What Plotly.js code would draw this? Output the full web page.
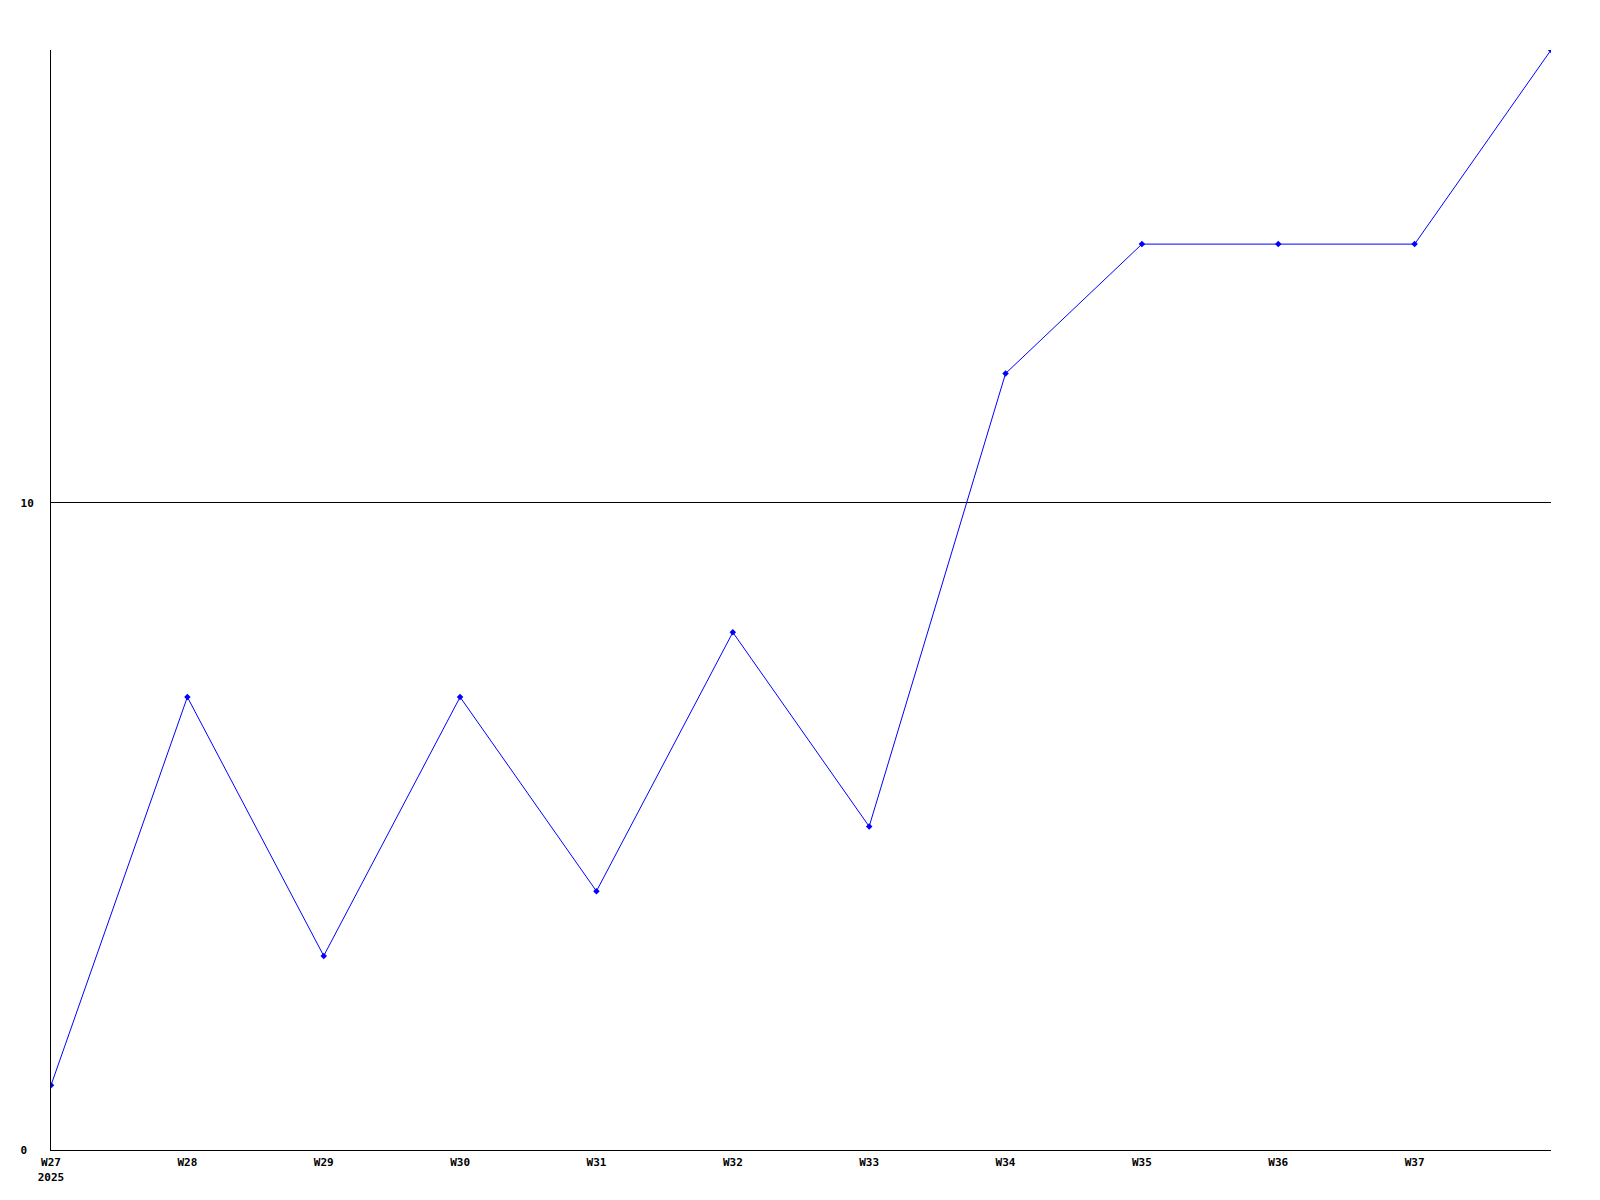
<!DOCTYPE html>
<html>
<head>
<meta charset="utf-8">
<script src="https://cdn.plot.ly/plotly-3.0.1.min.js"></script>
<style>html,body{margin:0;padding:0;background:#fff;}#chart{width:1600px;height:1200px;}</style>
</head>
<body>
<div id="chart"></div>
<script>
const weeks = ["W27","W28","W29","W30","W31","W32","W33","W34","W35","W36","W37","W38"];
const values = [1, 7, 3, 7, 4, 8, 5, 12, 14, 14, 14, 17];
const xTickLabels = ["W27<br>2025","W28","W29","W30","W31","W32","W33","W34","W35","W36","W37"];
const yTickValues = [0, 10];
const yTickLabels = ["0\u00a0", "10"];

const xIdx = weeks.map((w, i) => i);
const font = {family: "DejaVu Sans Mono, monospace", size: 11, color: "#000", weight: "bold"};

Plotly.newPlot("chart", [{
  x: xIdx,
  y: values,
  type: "scatter",
  mode: "lines+markers",
  line: {color: "#0000ff", width: 1},
  marker: {color: "#0000ff", size: 5, symbol: "diamond"},
  hoverinfo: "skip"
}], {
  width: 1600, height: 1200,
  margin: {l: 51, r: 49, t: 50, b: 50},
  paper_bgcolor: "#fff", plot_bgcolor: "#fff",
  showlegend: false,
  font: font,
  xaxis: {
    range: [0, weeks.length - 1],
    tickvals: xTickLabels.map((t, i) => i),
    ticktext: xTickLabels,
    showgrid: false, zeroline: false,
    showline: true, linecolor: "#000", linewidth: 1,
    ticks: "", ticklabelstandoff: 2,
    tickfont: font
  },
  yaxis: {
    range: [0, 17],
    tickvals: yTickValues,
    ticktext: yTickLabels,
    showgrid: true, gridcolor: "#000", gridwidth: 1,
    zeroline: false,
    showline: true, linecolor: "#000", linewidth: 1,
    ticks: "", ticklabelstandoff: 14,
    tickfont: font
  }
}, {displayModeBar: false, staticPlot: true});
</script>
</body>
</html>
